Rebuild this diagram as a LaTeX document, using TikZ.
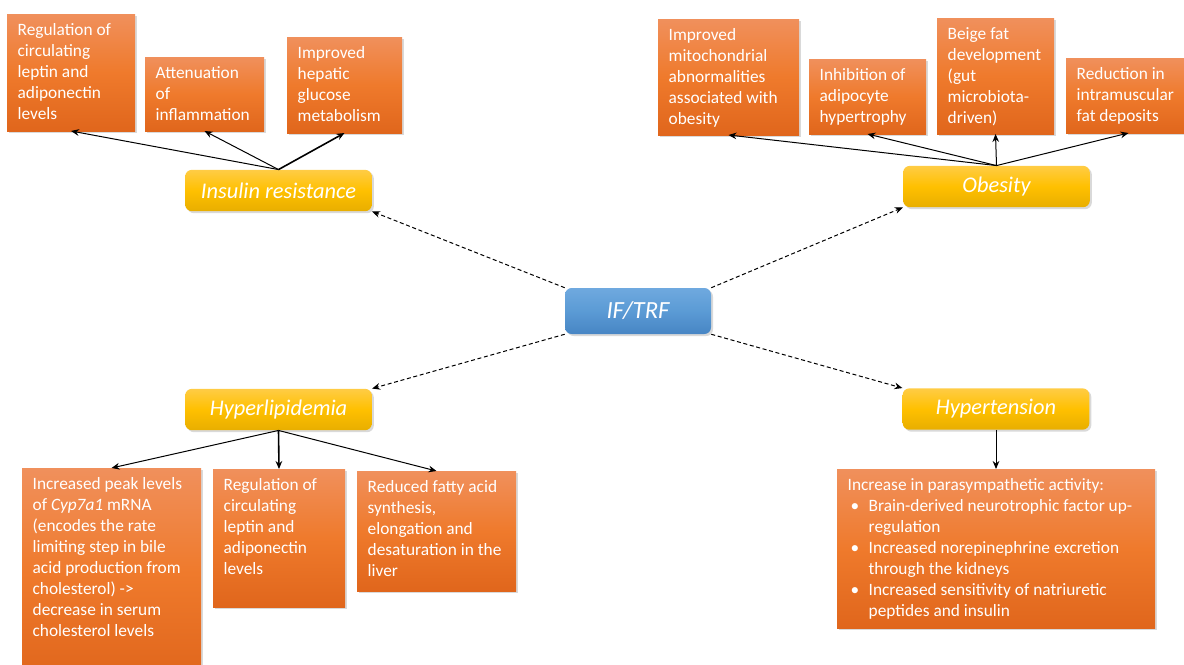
\documentclass[tikz,border=0pt]{standalone}
\usepackage{fontspec}
\setmainfont{Carlito}
\usetikzlibrary{arrows.meta,shadows}
\definecolor{orangetop}{HTML}{F0905C}
\definecolor{orangemid}{HTML}{EF7A2C}
\definecolor{orangebot}{HTML}{E0661C}
\definecolor{goldtop}{HTML}{FFCC45}
\definecolor{goldmid}{HTML}{FFC000}
\definecolor{goldbot}{HTML}{E8AE00}
\definecolor{bluetop}{HTML}{6FA9DF}
\definecolor{bluemid}{HTML}{5B9BD5}
\definecolor{bluebot}{HTML}{4785C4}
\newdimen\pxu \pxu=0.75pt
\newcommand{\efftext}[3]{\parbox[c][\dimexpr#2\pxu-14pt\relax][t]{\dimexpr#1\pxu-16pt\relax}{\raggedright #3}}
\newcommand{\bulletline}{\par\hangindent=15.75pt\hangafter=1\noindent\makebox[15.75pt][l]{\hspace{2.25pt}\textbullet}}

\begin{document}
\begin{tikzpicture}[x=0.75pt,y=-0.75pt,
    effect/.style={anchor=north west,inner xsep=8pt,inner ysep=7pt,outer sep=0pt,
      top color=orangetop,bottom color=orangebot,middle color=orangemid,
      text=white,font=\fontsize{13}{15.75}\selectfont,
      drop shadow={shadow xshift=1.5pt,shadow yshift=-1.5pt,opacity=0.3}},
    condition/.style={rounded corners=5pt,minimum width=140pt,minimum height=31pt,
      top color=goldtop,bottom color=goldbot,middle color=goldmid,
      text=white,font=\fontsize{16.8}{19}\selectfont\itshape,
      drop shadow={shadow xshift=1.5pt,shadow yshift=-1.5pt,opacity=0.3}},
    regimen/.style={rounded corners=5pt,minimum width=109.5pt,minimum height=34.5pt,
      top color=bluetop,bottom color=bluebot,middle color=bluemid,
      text=white,font=\fontsize{18.5}{21}\selectfont\itshape,
      drop shadow={shadow xshift=1.5pt,shadow yshift=-1.5pt,opacity=0.3}}]
  \useasboundingbox (0,0) rectangle (1184,664);

  % centre and the four conditions
  \node[regimen] (ift) at (638,311) {IF/TRF};
  \node[condition] (ins) at (278.5,190.5) {Insulin resistance};
  \node[condition] (obe) at (996.5,186.5) {Obesity};
  \node[condition] (hyl) at (278.5,409.5) {Hyperlipidemia};
  \node[condition] (hyt) at (996,409) {Hypertension};

  % effects
  \node[effect] (a1) at (7,14) {\efftext{128}{117}{Regulation of\\circulating\\leptin and\\adiponectin\\levels}};
  \node[effect] (a2) at (145,57) {\efftext{119}{74}{Attenuation\\of\\inflammation}};
  \node[effect] (a3) at (287,37) {\efftext{115}{96}{Improved\\hepatic\\glucose\\metabolism}};

  \node[effect] (b1) at (658,19) {\efftext{141}{116}{Improved\\mitochondrial\\abnormalities\\associated with\\obesity}};
  \node[effect] (b2) at (809,59) {\efftext{117}{75}{Inhibition of\\adipocyte\\hypertrophy}};
  \node[effect] (b3) at (937,18) {\efftext{117}{116}{Beige fat\\development\\(gut\\microbiota-\\driven)}};
  \node[effect] (b4) at (1066,58) {\efftext{125}{75}{Reduction in\\intramuscular\\fat deposits}};

  \node[effect] (c1) at (22,468) {\efftext{179}{210}{Increased peak levels\\of \textit{Cyp7a1} mRNA\\(encodes the rate\\limiting step in bile\\acid production from\\cholesterol) ->\\decrease in serum\\cholesterol levels}};
  \node[effect] (c2) at (213,469) {\efftext{132}{138}{Regulation of\\circulating\\leptin and\\adiponectin\\levels}};
  \node[effect] (c3) at (357,471) {\efftext{159}{120}{Reduced fatty acid\\synthesis,\\elongation and\\desaturation in the\\liver}};

  \node[effect] (d1) at (837,469) {\efftext{318}{159}{Increase in parasympathetic activity:\bulletline Brain-derived neurotrophic factor up-\newline regulation\bulletline Increased norepinephrine excretion\newline through the kidneys\bulletline Increased sensitivity of natriuretic\newline peptides and insulin}};

  \begin{scope}[>={Stealth[length=6pt,width=5pt]},
      every edge/.style={draw,line width=0.75pt}]
    \path[->] (ins.north) edge (a1.south) edge (a2.south) edge[line width=1.2pt] (a3.south);
    \path[->] (obe.north) edge (b1.south) edge (b2.south) edge (b3.south) edge (b4.south);
    \path[->] (hyl.south) edge (c1.north) edge[line width=1.2pt] (c2.north) edge (c3.north);
    \path[->] (hyt.south) edge (d1.north);
  \end{scope}

  \begin{scope}[>={Stealth[length=6pt,width=5pt]},
      every edge/.style={draw,line width=0.75pt,dash pattern=on 3pt off 2pt}]
    \path[->] (ift.north west) edge (ins.south east);
    \path[->] (ift.north east) edge (obe.south west);
    \path[->] (ift.south west) edge (hyl.north east);
    \path[->] (ift.south east) edge (hyt.north west);
  \end{scope}
\end{tikzpicture}
\end{document}
